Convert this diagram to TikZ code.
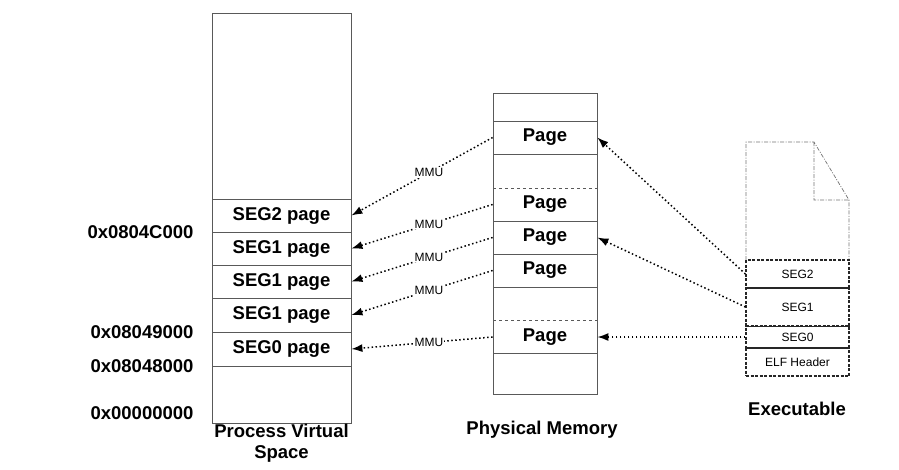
\documentclass[tikz,border=0pt]{standalone}
\usepackage{fontspec}
\setmainfont{Liberation Sans}
\usetikzlibrary{arrows.meta}
\begin{document}
\begin{tikzpicture}[x=1pt,y=-1pt,
  big/.style={font=\fontsize{18.5}{21}\selectfont\bfseries},
  small/.style={font=\fontsize{12}{14}\selectfont},
  frame/.style={draw=black!65, line width=0.8pt},
  vrow/.style={frame, big, minimum width=139pt, inner sep=0pt},
  prow/.style={frame, big, minimum width=104pt, minimum height=33pt, inner sep=0pt},
  erow/.style={draw=black!85, line width=1.1pt, dash pattern=on 3pt off 1.5pt, small, minimum width=103pt, inner sep=0pt},
  arr/.style={draw=black, line width=1.5pt, dash pattern=on 1.5pt off 2.5pt, -{Latex[length=11pt,width=8pt]}},
  mmu/.style={small, fill=white, inner sep=1pt, pos=0.45}
]
\useasboundingbox (0,0) rectangle (899,469);

% Process virtual space
\draw[frame] (212,13) rectangle (351,423);
\node[vrow, minimum height=33pt] (v1) at (281.5,215.5) {SEG2 page};
\node[vrow, minimum height=33pt] (v2) at (281.5,248.5) {SEG1 page};
\node[vrow, minimum height=33pt] (v3) at (281.5,281.5) {SEG1 page};
\node[vrow, minimum height=34pt] (v4) at (281.5,315) {SEG1 page};
\node[vrow, minimum height=34pt] (v5) at (281.5,349) {SEG0 page};

\node[big, anchor=east] (a1) at (197,232) {0x0804C000};
\node[big, anchor=east] (a2) at (197,332) {0x08049000};
\node[big, anchor=east] (a3) at (197,366) {0x08048000};
\node[big, anchor=east] (a4) at (197,413) {0x00000000};
\node[big, align=center] (cv) at (281.5,443) {Process Virtual\\Space};

% Physical memory
\draw[frame] (493,93) rectangle (597,394);
\node[prow] (p1) at (545,137.5) {Page};
\node[prow] (p2) at (545,204.5) {Page};
\node[prow] (p3) at (545,237.5) {Page};
\node[prow] (p4) at (545,270.5) {Page};
\node[prow] (p5) at (545,337) {Page};
\draw[draw=white, line width=1.2pt] (494,188) -- (596,188) (494,320) -- (596,320);
\draw[frame, dashed] (493,188) -- (597,188) (493,320) -- (597,320);
\node[big] (cp) at (542,430) {Physical Memory};

% Executable
\draw[draw=black!55, line width=0.7pt, dash pattern=on 4pt off 1.5pt on 1pt off 1.5pt]
  (746,260) -- (746,142) -- (814,142) -- (849,200) -- (849,260)
  (814,142) -- (814,200) -- (849,200);
\node[erow, minimum height=28pt] (e2) at (797.5,274) {SEG2};
\node[erow, minimum height=38pt] (e1) at (797.5,307) {SEG1};
\node[erow, minimum height=22pt] (e0) at (797.5,337) {SEG0};
\node[erow, minimum height=28pt] (eh) at (797.5,362) {ELF Header};
\draw[draw=black!85, line width=1.1pt] (e1.south west) -- (e1.south east);
\node[big] (ce) at (797,409) {Executable};

% Executable -> physical
\draw[arr] (e2.west) -- (p1.east);
\draw[arr] (e1.west) -- (p3.east);
\draw[arr] (e0.west) -- (p5.east);

% Physical -> virtual (MMU)
\draw[arr] (p1.west) -- node[mmu] {MMU} (v1.east);
\draw[arr] (p2.west) -- node[mmu] {MMU} (v2.east);
\draw[arr] (p3.west) -- node[mmu] {MMU} (v3.east);
\draw[arr] (p4.west) -- node[mmu] {MMU} (v4.east);
\draw[arr] (p5.west) -- node[mmu] {MMU} (v5.east);
\end{tikzpicture}
\end{document}
